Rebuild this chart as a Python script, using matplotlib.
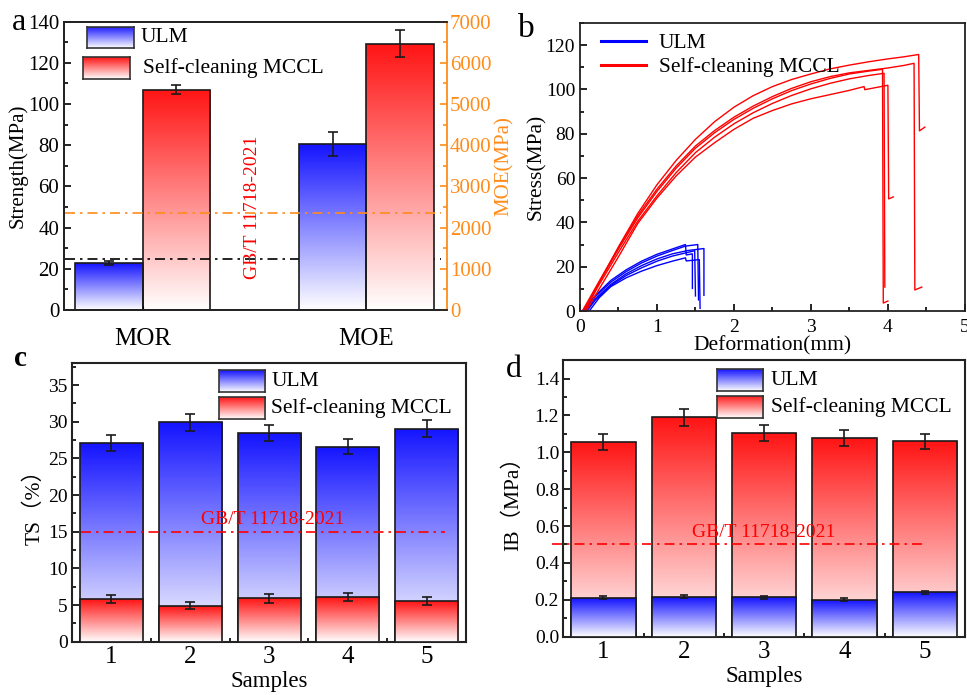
import numpy as np
import matplotlib
matplotlib.use('Agg')
import matplotlib.pyplot as plt
from matplotlib.colors import LinearSegmentedColormap
from matplotlib.ticker import MultipleLocator

plt.rcParams['font.family'] = ['Liberation Serif', 'Noto Sans CJK SC']

BLUE = '#1414ff'
RED = '#ff1414'
ORANGE = '#ff8c1a'
EDGE = '#1a1a1a'
DASHDOT = (0, (6, 3, 1.5, 3))

# ---- panel a : MOR / MOE
groups = ['MOR', 'MOE']
mor = [22.8, 107.0]          # ULM, MCCL
mor_err = [1.1, 2.2]
moe = [4020, 6470]           # ULM, MCCL
moe_err = [290, 320]
mor_std = 24.7
moe_std = 2360

# ---- panel b : stress-deformation curves
red_x = [
    [0.05, 0.25, 0.5, 0.75, 1.0, 1.25, 1.5, 1.75, 2.0, 2.25, 2.5, 2.75, 3.0, 3.25, 3.5, 3.75, 4.0, 4.2, 4.40, 4.41, 4.48],
    [0.03, 0.25, 0.5, 0.75, 1.0, 1.25, 1.5, 1.75, 2.0, 2.25, 2.5, 2.75, 3.0, 3.25, 3.5, 3.75, 4.0, 4.2, 4.34, 4.35, 4.44],
    [0.05, 0.25, 0.5, 0.75, 1.0, 1.25, 1.5, 1.75, 2.0, 2.25, 2.5, 2.75, 3.0, 3.25, 3.5, 3.75, 3.93, 3.94, 4.00],
    [0.06, 0.25, 0.5, 0.75, 1.0, 1.25, 1.5, 1.75, 2.0, 2.25, 2.5, 2.75, 3.0, 3.25, 3.5, 3.75, 3.95, 3.96],
    [0.08, 0.25, 0.5, 0.75, 1.0, 1.25, 1.5, 1.75, 2.0, 2.25, 2.5, 2.75, 3.0, 3.25, 3.5, 3.69, 3.70, 3.85, 4.00, 4.01, 4.07],
]
red_y = [
    [0, 13, 29, 44, 57, 68, 77.5, 85.5, 92, 97.2, 101.3, 104.5, 107, 109.3, 111, 112.5, 113.8, 114.7, 115.8, 81.3, 83],
    [0, 13.5, 28.5, 43, 55, 65.5, 74.5, 81.5, 87.5, 92.5, 96.8, 100.5, 103.5, 105.8, 107.5, 108.6, 109.7, 110.8, 111.8, 9.5, 10.8],
    [0, 13, 28, 42, 54, 64.5, 73.5, 80.5, 86.5, 91.5, 95.8, 99.5, 102.5, 105, 107, 108.3, 109.1, 3.6, 4.5],
    [0, 12, 26.5, 40.5, 52, 62.5, 71.5, 78.5, 84.5, 89.5, 93.7, 97.3, 100.3, 102.8, 104.8, 106.3, 107.3, 10.8],
    [0, 10, 24.5, 39.5, 51, 61, 69.5, 76, 82, 87, 90.5, 93.5, 95.8, 97.7, 99.6, 101.3, 99.9, 100.9, 101.9, 50.6, 51.5],
]
blue_x = [
    [0.03, 0.2, 0.4, 0.6, 0.8, 1.0, 1.2, 1.37, 1.38, 1.46, 1.46],
    [0.05, 0.2, 0.4, 0.6, 0.8, 1.0, 1.2, 1.37, 1.53, 1.54],
    [0.07, 0.2, 0.4, 0.6, 0.8, 1.0, 1.2, 1.4, 1.61, 1.61],
    [0.09, 0.2, 0.4, 0.6, 0.8, 1.0, 1.2, 1.49, 1.50],
    [0.12, 0.25, 0.4, 0.6, 0.8, 1.0, 1.2, 1.37, 1.38, 1.55, 1.56],
]
blue_y = [
    [0, 7, 13.8, 18.6, 22.5, 25.6, 28, 30, 25.3, 25.8, 10.2],
    [0, 6.5, 13, 17.8, 21.7, 24.8, 27.3, 29.3, 30.0, 5.0],
    [0, 5.5, 12, 16.8, 20.5, 23.5, 25.8, 27.3, 28.2, 7.1],
    [0, 5, 11.5, 16, 19.5, 22.5, 24.8, 27.2, 6.8],
    [0, 6, 11, 15, 18, 20.5, 22.5, 24, 22.6, 23.2, 1.2],
]

# ---- panel c : TS
samples = [1, 2, 3, 4, 5]
ts_ulm = [27.1, 29.9, 28.45, 26.6, 29.05]
ts_ulm_err = [1.1, 1.2, 1.1, 1.05, 1.2]
ts_mccl = [5.77, 4.9, 5.9, 6.1, 5.55]
ts_mccl_err = [0.55, 0.48, 0.6, 0.6, 0.55]
ts_std = 15

# ---- panel d : IB
ib_mccl = [1.058, 1.189, 1.103, 1.076, 1.059]
ib_mccl_err = [0.043, 0.048, 0.044, 0.044, 0.041]
ib_ulm = [0.211, 0.216, 0.214, 0.200, 0.240]
ib_ulm_err = [0.008, 0.008, 0.008, 0.008, 0.008]
ib_std = 0.5

grad = np.linspace(0, 1, 256).reshape(-1, 1)


def cmap_of(color):
    return LinearSegmentedColormap.from_list('g', ['white', color])


def grad_bars(ax, x, h, color, width, z):
    bars = ax.bar(x, h, width, facecolor='none', edgecolor=EDGE, linewidth=1.2, zorder=z + 0.5)
    for b in bars:
        x0, y0 = b.get_xy()
        im = ax.imshow(grad, cmap=cmap_of(color), origin='lower', aspect='auto',
                       extent=[x0, x0 + b.get_width(), y0, y0 + b.get_height()],
                       zorder=z, interpolation='bilinear')
        im.set_clip_path(b)
    return bars


def errs(ax, x, h, e, z, cap=3.5):
    ax.errorbar(x, h, yerr=e, fmt='none', ecolor=EDGE, elinewidth=1.2,
                capsize=cap, capthick=1.2, zorder=z)


def grad_key(ax, rect, color, label, tx):
    iax = ax.inset_axes(rect)
    iax.imshow(grad, cmap=cmap_of(color), origin='lower', aspect='auto')
    iax.set_xticks([])
    iax.set_yticks([])
    for s in iax.spines.values():
        s.set_linewidth(1.2)
        s.set_color('#333333')
    ax.text(tx, rect[1] + rect[3] / 2, label, transform=ax.transAxes,
            va='center', ha='left', fontsize=15.5)


def style(ax, lw=1.3):
    for s in ax.spines.values():
        s.set_linewidth(lw)
        s.set_color('#222222')


fig = plt.figure(figsize=(9.67, 6.95), dpi=100)

# ================= a
axa = fig.add_axes([0.0657, 0.554, 0.3966, 0.4148])
axa2 = axa.twinx()
w = 0.3
grad_bars(axa, [0 - w / 2], [mor[0]], BLUE, w, 1)
grad_bars(axa, [0 + w / 2], [mor[1]], RED, w, 1)
errs(axa, [0 - w / 2, 0 + w / 2], mor, mor_err, 3)
grad_bars(axa2, [1 - w / 2], [moe[0]], BLUE, w, 1)
grad_bars(axa2, [1 + w / 2], [moe[1]], RED, w, 1)
errs(axa2, [1 - w / 2, 1 + w / 2], moe, moe_err, 3)
axa.axhline(mor_std, xmin=0.004, xmax=0.983, color='k', ls=DASHDOT, lw=1.2, zorder=4)
axa2.axhline(moe_std, xmin=0.004, xmax=0.983, color=ORANGE, ls=DASHDOT, lw=1.2, zorder=4)
axa.text(0.489, 50, 'GB/T 11718-2021', rotation=90, color='red', fontsize=14,
         ha='center', va='center', zorder=5)
axa.set_xlim(-0.353, 1.36)
axa.set_ylim(0, 140)
axa2.set_ylim(0, 7000)
axa.set_xticks([0, 1], groups, fontsize=18)
axa.yaxis.set_major_locator(MultipleLocator(20))
axa.yaxis.set_minor_locator(MultipleLocator(10))
axa2.yaxis.set_major_locator(MultipleLocator(1000))
axa2.yaxis.set_minor_locator(MultipleLocator(500))
style(axa)
style(axa2)
axa.spines['right'].set_visible(False)
axa2.spines['right'].set_color(ORANGE)
axa.tick_params(axis='y', which='both', direction='in', labelsize=15, width=1.2, pad=3)
axa.tick_params(axis='y', which='major', length=5)
axa.tick_params(axis='y', which='minor', length=3)
axa.tick_params(axis='x', direction='in', length=3, pad=13)
axa2.tick_params(axis='y', which='both', direction='in', colors=ORANGE, labelsize=15, width=1.2, pad=2)
axa2.tick_params(axis='y', which='major', length=5)
axa2.tick_params(axis='y', which='minor', length=3)
axa.set_ylabel('Strength(MPa)', fontsize=15, labelpad=0)
axa2.set_ylabel('MOE(MPa)', fontsize=15, color=ORANGE, labelpad=2)
grad_key(axa, [0.061, 0.907, 0.122, 0.076], BLUE, 'ULM', 0.20)
grad_key(axa, [0.052, 0.800, 0.122, 0.076], RED, 'Self-cleaning MCCL', 0.207)

# ================= b
axb = fig.add_axes([0.5998, 0.5525, 0.398, 0.4144])
for i, (xs, ys) in enumerate(zip(blue_x, blue_y)):
    axb.plot(xs, ys, color='#0000ff', lw=1.0, label='ULM' if i == 0 else None)
for i, (xs, ys) in enumerate(zip(red_x, red_y)):
    axb.plot(xs, ys, color='#ff0000', lw=1.0, label='Self-cleaning MCCL' if i == 0 else None)
axb.set_xlim(0, 5)
axb.set_ylim(0, 130)
axb.xaxis.set_major_locator(MultipleLocator(1))
axb.xaxis.set_minor_locator(MultipleLocator(0.5))
axb.yaxis.set_major_locator(MultipleLocator(20))
axb.yaxis.set_minor_locator(MultipleLocator(10))
style(axb)
axb.tick_params(which='both', direction='in', labelsize=14, width=1.2)
axb.tick_params(which='major', length=5)
axb.tick_params(which='minor', length=3)
axb.tick_params(axis='x', pad=6)
axb.set_xlabel('Deformation(mm)', fontsize=15.5, labelpad=0)
axb.set_ylabel('Stress(MPa)', fontsize=15.5, labelpad=0)
leg = axb.legend(loc='upper left', bbox_to_anchor=(0.02, 1.01), frameon=False, fontsize=15.5,
                 handlelength=2.1, handletextpad=0.6, labelspacing=0.2, borderaxespad=0.2)
for ln in leg.get_lines():
    ln.set_linewidth(2.2)

# ================= c
axc = fig.add_axes([0.0745, 0.0767, 0.4074, 0.401])
grad_bars(axc, samples, ts_ulm, BLUE, 0.8, 1)
errs(axc, samples, ts_ulm, ts_ulm_err, 2)
grad_bars(axc, samples, ts_mccl, RED, 0.8, 3)
errs(axc, samples, ts_mccl, ts_mccl_err, 4)
axc.axhline(ts_std, xmin=0.024, xmax=0.947, color='red', ls=DASHDOT, lw=1.2, zorder=5)
axc.text(3.05, 16.6, 'GB/T 11718-2021', color='red', fontsize=14, ha='center', va='center', zorder=6)
axc.set_xlim(0.5, 5.5)
axc.set_ylim(0, 38)
axc.set_xticks(samples)
axc.xaxis.set_minor_locator(MultipleLocator(0.5))
axc.yaxis.set_major_locator(MultipleLocator(5))
axc.yaxis.set_minor_locator(MultipleLocator(2.5))
style(axc, 1.5)
axc.tick_params(which='both', direction='in', width=1.2)
axc.tick_params(which='major', length=5)
axc.tick_params(which='minor', length=3)
axc.tick_params(axis='y', labelsize=14, pad=3)
axc.tick_params(axis='x', labelsize=18, pad=3)
axc.set_xlabel('Samples', fontsize=16.5, labelpad=2)
axc.set_ylabel('TS（%）', fontsize=15.5, labelpad=3)
grad_key(axc, [0.373, 0.896, 0.118, 0.078], BLUE, 'ULM', 0.506)
grad_key(axc, [0.373, 0.800, 0.118, 0.077], RED, 'Self-cleaning MCCL', 0.506)

# ================= d
axd = fig.add_axes([0.5825, 0.0839, 0.4154, 0.398])
grad_bars(axd, samples, ib_mccl, RED, 0.8, 1)
errs(axd, samples, ib_mccl, ib_mccl_err, 2)
grad_bars(axd, samples, ib_ulm, BLUE, 0.8, 3)
errs(axd, samples, ib_ulm, ib_ulm_err, 4, cap=3)
axd.axhline(ib_std, xmin=-0.027, xmax=0.90, color='red', ls=DASHDOT, lw=1.2, zorder=5, clip_on=False)
axd.text(3.0, 0.567, 'GB/T 11718-2021', color='red', fontsize=14, ha='center', va='center', zorder=6)
axd.set_xlim(0.5, 5.5)
axd.set_ylim(0, 1.5)
axd.set_xticks(samples)
axd.xaxis.set_minor_locator(MultipleLocator(0.5))
axd.yaxis.set_major_locator(MultipleLocator(0.2))
axd.yaxis.set_minor_locator(MultipleLocator(0.1))
axd.yaxis.set_major_formatter(matplotlib.ticker.FormatStrFormatter('%.1f'))
style(axd, 1.5)
axd.tick_params(which='both', direction='in', width=1.2)
axd.tick_params(which='major', length=5)
axd.tick_params(which='minor', length=3)
axd.tick_params(axis='y', labelsize=14, pad=3)
axd.tick_params(axis='x', labelsize=18, pad=3)
axd.set_xlabel('Samples', fontsize=16.5, labelpad=2)
axd.set_ylabel('IB（MPa）', fontsize=15.5, labelpad=8)
grad_key(axd, [0.383, 0.888, 0.115, 0.078], BLUE, 'ULM', 0.517)
grad_key(axd, [0.383, 0.789, 0.115, 0.081], RED, 'Self-cleaning MCCL', 0.517)

# panel letters
fig.text(12 / 967, 1 - 30 / 695, 'a', fontsize=23, va='baseline')
fig.text(518 / 967, 1 - 37 / 695, 'b', fontsize=24, va='baseline')
fig.text(14 / 967, 1 - 366 / 695, 'c', fontsize=21, va='baseline', fontweight='bold')
fig.text(506 / 967, 1 - 377 / 695, 'd', fontsize=23, va='baseline')

fig.savefig('out.png', dpi=100)
